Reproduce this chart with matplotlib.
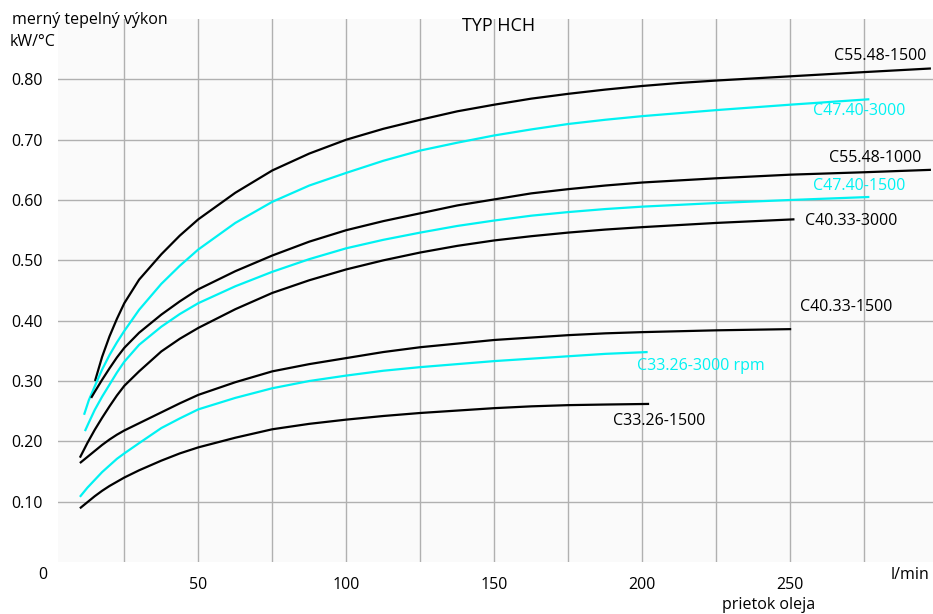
import matplotlib
matplotlib.use('Agg')  # no display
import matplotlib.pyplot as plt
import matplotlib.transforms as mtransforms

plt.rcParams['font.family'] = ['Open Sans', 'DejaVu Sans']

# Curve data (flow l/min -> kW/°C)
x_c55_1500 = [15.1, 17.5, 20, 22.5, 25, 30, 37.5, 43.75, 50, 62.5, 75, 87.5, 100, 112.5, 125, 137.5, 150, 162.5, 175, 187.5, 200, 212.5, 225, 250, 275, 297.5]
y_c55_1500 = [0.300, 0.340, 0.374, 0.403, 0.429, 0.468, 0.510, 0.541, 0.568, 0.612, 0.649, 0.677, 0.700, 0.718, 0.733, 0.747, 0.758, 0.768, 0.776, 0.783, 0.789, 0.794, 0.798, 0.805, 0.812, 0.818]

x_c47_3000 = [11.4, 13, 15, 17.5, 20, 22.5, 25, 30, 37.5, 43.75, 50, 62.5, 75, 87.5, 100, 112.5, 125, 137.5, 150, 162.5, 175, 187.5, 200, 225, 250, 276.7]
y_c47_3000 = [0.244, 0.268, 0.291, 0.319, 0.343, 0.364, 0.383, 0.418, 0.461, 0.491, 0.518, 0.562, 0.597, 0.624, 0.645, 0.665, 0.682, 0.695, 0.707, 0.717, 0.726, 0.733, 0.739, 0.749, 0.758, 0.767]

x_c55_1000 = [13.8, 15, 17.5, 20, 22.5, 25, 30, 37.5, 43.75, 50, 62.5, 75, 87.5, 100, 112.5, 125, 137.5, 150, 162.5, 175, 187.5, 200, 225, 250, 275, 297.5]
y_c55_1000 = [0.272, 0.282, 0.302, 0.321, 0.339, 0.355, 0.380, 0.410, 0.432, 0.452, 0.482, 0.508, 0.531, 0.550, 0.565, 0.578, 0.591, 0.601, 0.611, 0.618, 0.624, 0.629, 0.636, 0.642, 0.646, 0.650]

x_c47_1500 = [11.7, 13, 15, 17.5, 20, 22.5, 25, 30, 37.5, 43.75, 50, 62.5, 75, 87.5, 100, 112.5, 125, 137.5, 150, 162.5, 175, 187.5, 200, 212.5, 225, 250, 276.7]
y_c47_1500 = [0.217, 0.231, 0.252, 0.274, 0.294, 0.314, 0.332, 0.360, 0.390, 0.411, 0.429, 0.457, 0.481, 0.502, 0.520, 0.534, 0.546, 0.557, 0.566, 0.574, 0.580, 0.585, 0.589, 0.592, 0.595, 0.600, 0.605]

x_c40_3000 = [10, 12.5, 15, 17.5, 20, 22.5, 25, 30, 37.5, 43.75, 50, 62.5, 75, 87.5, 100, 112.5, 125, 137.5, 150, 162.5, 175, 187.5, 200, 225, 251.4]
y_c40_3000 = [0.173, 0.197, 0.219, 0.239, 0.258, 0.276, 0.292, 0.316, 0.349, 0.370, 0.388, 0.419, 0.446, 0.467, 0.485, 0.500, 0.513, 0.524, 0.533, 0.540, 0.546, 0.551, 0.555, 0.562, 0.568]

x_c40_1500 = [10, 12.5, 15, 17.5, 20, 22.5, 25, 30, 37.5, 43.75, 50, 62.5, 75, 87.5, 100, 112.5, 125, 137.5, 150, 162.5, 175, 187.5, 200, 225, 250.3]
y_c40_1500 = [0.164, 0.174, 0.184, 0.194, 0.203, 0.211, 0.218, 0.230, 0.248, 0.263, 0.277, 0.298, 0.316, 0.328, 0.338, 0.348, 0.356, 0.362, 0.368, 0.372, 0.376, 0.379, 0.381, 0.384, 0.386]

x_c33_3000 = [10, 12.5, 15, 17.5, 20, 22.5, 25, 30, 37.5, 43.75, 50, 62.5, 75, 87.5, 100, 112.5, 125, 137.5, 150, 162.5, 175, 187.5, 201.8]
y_c33_3000 = [0.108, 0.123, 0.136, 0.149, 0.160, 0.171, 0.180, 0.197, 0.222, 0.238, 0.253, 0.272, 0.288, 0.300, 0.309, 0.317, 0.323, 0.328, 0.333, 0.337, 0.341, 0.345, 0.348]

x_c33_1500 = [10, 12.5, 15, 17.5, 20, 22.5, 25, 30, 37.5, 43.75, 50, 62.5, 75, 87.5, 100, 112.5, 125, 137.5, 150, 162.5, 175, 187.5, 202.3]
y_c33_1500 = [0.089, 0.099, 0.109, 0.118, 0.126, 0.133, 0.140, 0.152, 0.168, 0.180, 0.190, 0.206, 0.220, 0.229, 0.236, 0.242, 0.247, 0.251, 0.255, 0.258, 0.260, 0.261, 0.262]

x_ticks = [50, 100, 150, 200, 250]
y_ticks = [0.10, 0.20, 0.30, 0.40, 0.50, 0.60, 0.70, 0.80]

BLACK = '#000000'
CYAN = '#00f2f2'

fig = plt.figure(figsize=(9.33, 6.14), dpi=100)
ax = fig.add_axes([58 / 933, 52 / 614, 875 / 933, 543 / 614])
ax.set_facecolor('#fafafa')

curves = [
    (x_c55_1500, y_c55_1500, BLACK),
    (x_c47_3000, y_c47_3000, CYAN),
    (x_c55_1000, y_c55_1000, BLACK),
    (x_c47_1500, y_c47_1500, CYAN),
    (x_c40_3000, y_c40_3000, BLACK),
    (x_c40_1500, y_c40_1500, BLACK),
    (x_c33_3000, y_c33_3000, CYAN),
    (x_c33_1500, y_c33_1500, BLACK),
]
for xs, ys, col in curves:
    ax.plot(xs, ys, color=col, linewidth=1.6, solid_capstyle='butt',
            solid_joinstyle='round', zorder=3)

# Curve labels
fs = 11.5
ax.text(295.8, 0.839, 'C55.48-1500', color=BLACK, fontsize=fs, ha='right', va='center')
ax.text(257.7, 0.748, 'C47.40-3000', color=CYAN, fontsize=fs, ha='left', va='center')
ax.text(263.2, 0.669, 'C55.48-1000', color=BLACK, fontsize=fs, ha='left', va='center')
ax.text(257.7, 0.623, 'C47.40-1500', color=CYAN, fontsize=fs, ha='left', va='center')
ax.text(255.0, 0.566, 'C40.33-3000', color=BLACK, fontsize=fs, ha='left', va='center')
ax.text(253.3, 0.423, 'C40.33-1500', color=BLACK, fontsize=fs, ha='left', va='center')
ax.text(198.2, 0.325, 'C33.26-3000 rpm', color=CYAN, fontsize=fs, ha='left', va='center')
ax.text(190.1, 0.234, 'C33.26-1500', color=BLACK, fontsize=fs, ha='left', va='center')

# Axes setup
ax.set_xlim(2.6, 298.2)
ax.set_ylim(0, 0.9)
grid_x = [25, 50, 75, 100, 125, 150, 175, 200, 225, 250, 275]
for gx in grid_x:
    ax.axvline(gx, color='#b0b0b0', linewidth=1.0, zorder=1)
for gy in y_ticks:
    ax.axhline(gy, color='#b0b0b0', linewidth=1.0, zorder=1)

ax.set_xticks(x_ticks)
ax.set_xticklabels([str(v) for v in x_ticks], fontsize=fs)
ax.set_yticks(y_ticks)
ax.set_yticklabels([f'{v:.2f}' for v in y_ticks], fontsize=fs)
ax.tick_params(length=0, pad=11)
for s in ax.spines.values():
    s.set_visible(False)

# extra axis texts
ax.text(-2.4, -0.022, '0', fontsize=fs, ha='center', va='center', clip_on=False)
ax.text(290.4, -0.022, 'l/min', fontsize=fs, ha='center', va='center', clip_on=False)
blend = mtransforms.blended_transform_factory(ax.transAxes, ax.transData)
ax.text(0.503, 0.889, 'TYP HCH', fontsize=13, ha='center', va='center', transform=blend)

fig.text(12 / 933, 1 - 20 / 614, 'merný tepelný výkon', fontsize=fs, ha='left', va='center')
fig.text(10 / 933, 1 - 42 / 614, 'kW/°C', fontsize=fs, ha='left', va='center')
fig.text(769 / 933, 1 - 605 / 614, 'prietok oleja', fontsize=fs, ha='center', va='center')

fig.savefig('out.png', dpi=100, facecolor='white')
plt.close(fig)
